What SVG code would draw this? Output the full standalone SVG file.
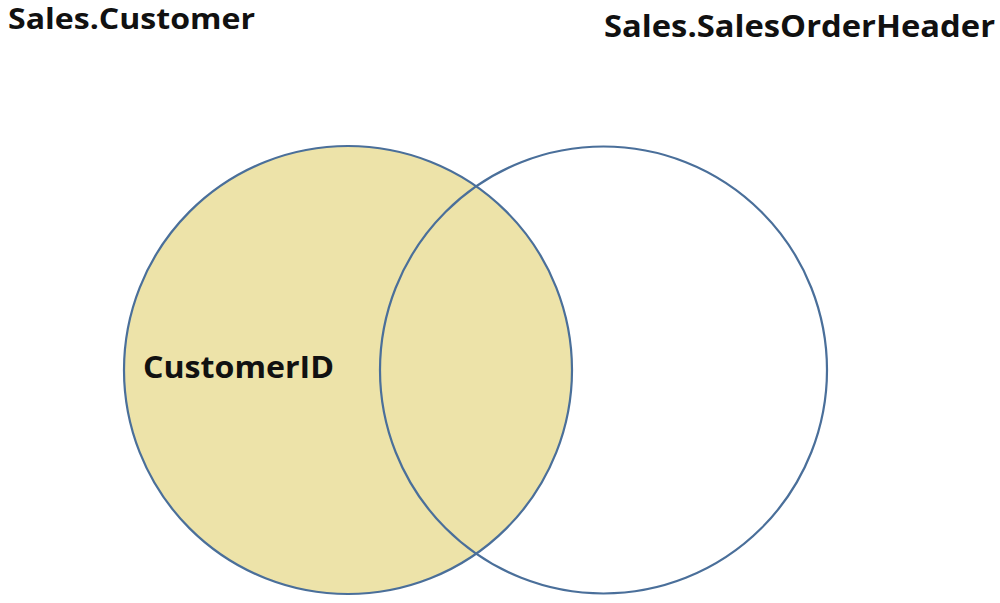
<svg xmlns="http://www.w3.org/2000/svg" width="1000" height="603" viewBox="0 0 1000 603">
<style>
.lbl{font-family:"Open Sans","Liberation Sans",sans-serif;font-weight:bold;fill:#111;}
.ring{stroke:#4a6f9a;stroke-width:2.2;}
</style>
<rect width="1000" height="603" fill="#fff"/>
<g id="customer">
<circle class="ring" cx="348" cy="370" r="224" fill="#ede3a9"/>
</g>
<g id="salesorderheader">
<path d="M603.5 146.5 A223.5 223.5 0 1 1 603.5 593.5 A223.5 223.5 0 1 1 603.5 146.5" fill="none" class="ring"/>
</g>
<g id="labels">
<text class="lbl" x="8" y="29" font-size="29" textLength="247" lengthAdjust="spacingAndGlyphs">Sales.Customer</text>
<text class="lbl" x="604" y="37" font-size="30" textLength="391" lengthAdjust="spacingAndGlyphs">Sales.SalesOrderHeader</text>
<text class="lbl" x="143" y="378" font-size="31" textLength="191" lengthAdjust="spacingAndGlyphs">CustomerID</text>
</g>
</svg>
